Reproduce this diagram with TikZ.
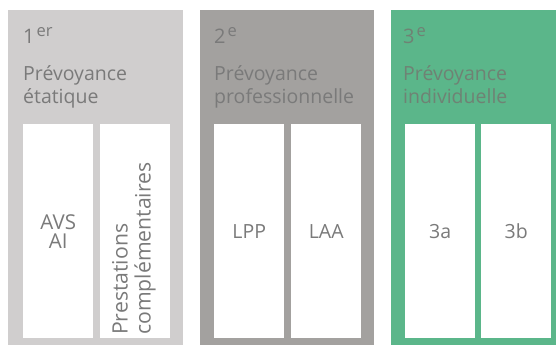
\documentclass[tikz,border=0pt]{standalone}
\usepackage{fontspec}
\setmainfont{Open Sans}
\definecolor{cA}{HTML}{D0CECE}
\definecolor{cB}{HTML}{A3A19F}
\definecolor{cC}{HTML}{5BB68A}
\definecolor{txt}{HTML}{7A7A7A}
\definecolor{txtg}{HTML}{6F8274}
\tikzset{
  panel/.style={draw=none, anchor=north west, minimum height=335pt, inner sep=0pt},
  pillar/.style={fill=white, draw=none, anchor=north west, minimum width=70pt, minimum height=214pt, inner sep=0pt},
  num/.style={anchor=base west, inner sep=0pt, font=\fontsize{20}{23}\selectfont},
  sup/.style={anchor=base west, inner sep=0pt, font=\fontsize{16.5}{18}\selectfont},
  title/.style={anchor=base west, inner sep=0pt, align=left, font=\fontsize{19.5}{23}\selectfont},
  lbl/.style={inner sep=0pt, align=center, text=txt, font=\fontsize{19.5}{20}\selectfont},
}
\begin{document}
\begin{tikzpicture}[x=1pt,y=-1pt]
\useasboundingbox (0,0) rectangle (556,346);
% panels
\node[panel, fill=cA, minimum width=175pt] (p1) at (8,10) {};
\node[panel, fill=cB, minimum width=174pt] (p2) at (200,10) {};
\node[panel, fill=cC, minimum width=165pt] (p3) at (391,10) {};
% pillars
\node[pillar] (a1) at (23,124) {};
\node[pillar] (a2) at (100,124) {};
\node[pillar] (b1) at (214,124) {};
\node[pillar] (b2) at (291,124) {};
\node[pillar] (c1) at (405,124) {};
\node[pillar] (c2) at (481,124) {};
% headings
\node[num, text=txt] (n1) at (23,43) {1};
\node[sup, text=txt] (s1) at (n1.base east) [yshift=6.5pt, xshift=1.5pt] {er};
\node[num, text=txt] (n2) at (214,43) {2};
\node[sup, text=txt] (s2) at (n2.base east) [yshift=6.5pt, xshift=1.5pt] {e};
\node[num, text=txtg] (n3) at (403,43) {3};
\node[sup, text=txtg] (s3) at (n3.base east) [yshift=6.5pt, xshift=1.5pt] {e};
\node[title, text=txt] (t1) at (23,103) {Prévoyance\\étatique};
\node[title, text=txt] (t2) at (214,103) {Prévoyance\\professionnelle};
\node[title, text=txtg] (t3) at (403,103) {Prévoyance\\individuelle};
% labels
\node[lbl, align=center, font=\fontsize{20.5}{19}\selectfont] (l1) at (a1.center) {AVS\\AI};
\node[lbl, rotate=90, anchor=west, align=left, font=\fontsize{21.2}{23}\selectfont] (l2) at (134,335) {Prestations\\complémentaires};
\node[lbl] (l3) at (b1.center) {LPP};
\node[lbl] (l4) at (b2.center) {LAA};
\node[lbl] (l5) at (c1.center) {3a};
\node[lbl] (l6) at (c2.center) {3b};
\end{tikzpicture}
\end{document}
